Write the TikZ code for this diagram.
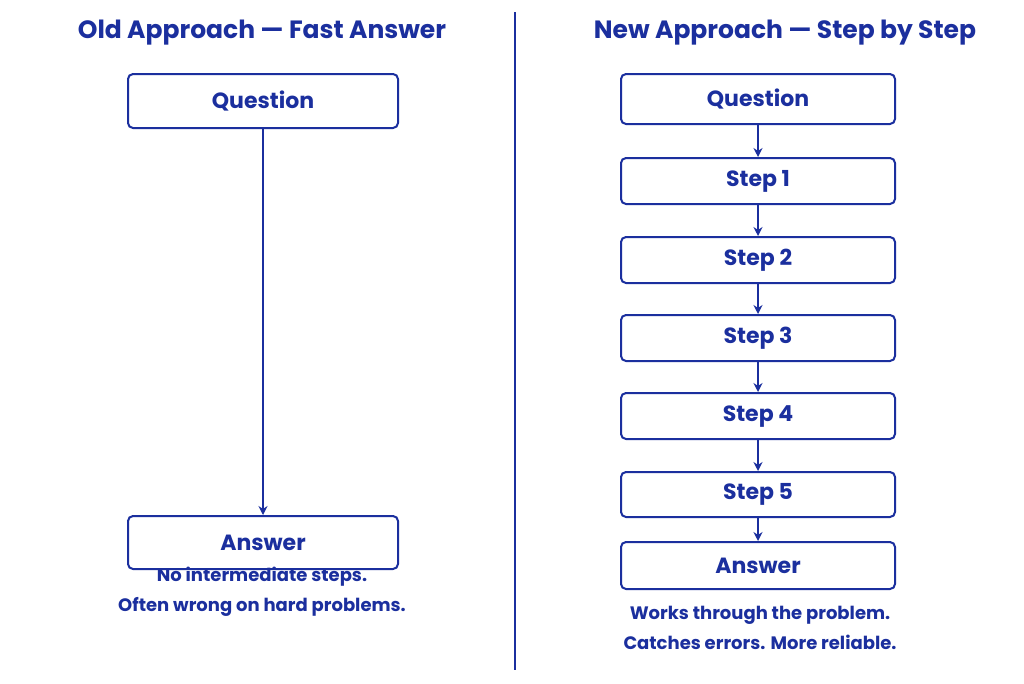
\documentclass[tikz,border=0pt]{standalone}
\usepackage{fontspec}
\setmainfont{Poppins}
\usetikzlibrary{arrows.meta}
\definecolor{nb}{HTML}{1B2F9E}
\begin{document}
\begin{tikzpicture}[x=1pt,y=-1pt,
  box/.style={draw=nb,line width=2pt,rounded corners=5pt,fill=white,text=nb,font=\fontsize{22}{24}\selectfont\bfseries,anchor=north west,inner sep=0pt},
  arr/.style={draw=nb,line width=2.2pt,-{Stealth[length=9pt,width=9pt]}},
  ttl/.style={text=nb,font=\fontsize{25}{28}\selectfont\bfseries},
  note/.style={text=nb,font=\fontsize{18}{30}\selectfont\bfseries,align=center}]
\useasboundingbox[fill=white] (0,0) rectangle (1024,683);
\node[ttl] (t1) at (262,33) {Old Approach — Fast Answer};
\node[ttl] (t2) at (785,33) {New Approach — Step by Step};
\draw[nb,line width=2pt] (515,12) coordinate (d1) -- (515,670) coordinate (d2);
\node[box,minimum width=270pt,minimum height=54pt] (lq) at (127,73) {Question};
\node[box,minimum width=270pt,minimum height=53pt] (la) at (127,515) {Answer};
\draw[arr] (lq.south) -- (la.north);
\node[note] (ln) at (262,592) {No intermediate steps.\\Often wrong on hard problems.};
\node[box,minimum width=274pt,minimum height=50pt] (rq) at (620,73) {Question};
\node[box,minimum width=274pt,minimum height=46pt] (s1) at (620,157) {Step 1};
\node[box,minimum width=274pt,minimum height=46pt] (s2) at (620,236) {Step 2};
\node[box,minimum width=274pt,minimum height=46pt] (s3) at (620,314) {Step 3};
\node[box,minimum width=274pt,minimum height=46pt] (s4) at (620,392) {Step 4};
\node[box,minimum width=274pt,minimum height=45pt] (s5) at (620,471) {Step 5};
\node[box,minimum width=274pt,minimum height=47pt] (ra) at (620,541) {Answer};
\foreach \a/\b in {rq/s1,s1/s2,s2/s3,s3/s4,s4/s5,s5/ra}
  \draw[arr] (\a.south) -- (\b.north);
\node[note] (rn) at (760,628) {Works through the problem.\\Catches errors. More reliable.};
\end{tikzpicture}
\end{document}
